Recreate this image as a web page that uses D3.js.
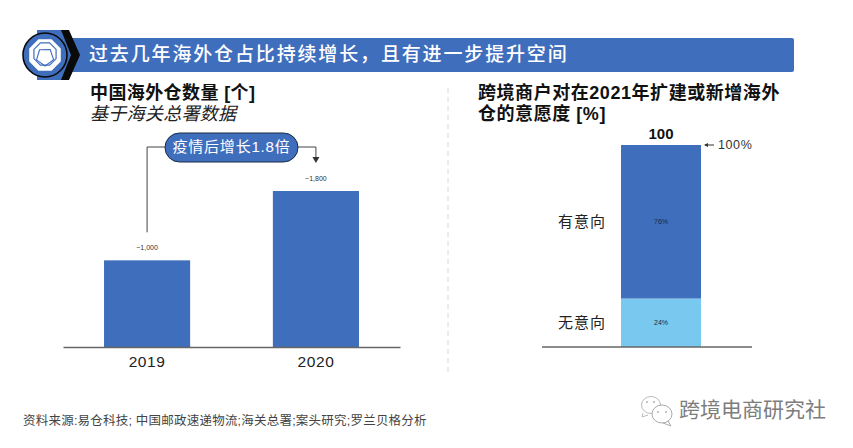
<!DOCTYPE html>
<html>
<head>
<meta charset="utf-8">
<script src="https://cdn.jsdelivr.net/npm/d3@7"></script>
<style>
  html, body { margin: 0; padding: 0; background: #fff; }
  svg { display: block; }
  text { font-family: "Liberation Sans", "Noto Sans CJK SC", sans-serif; }
</style>
</head>
<body>
<svg id="chart" width="853" height="448"></svg>
<script>
var years = ["2019", "2020"];
var warehouses = [1000, 1800];
var warehouseLabels = ["~1,000", "~1,800"];

var intentCategories = ["无意向", "有意向"];
var intentValues = [24, 76];
var intentLabels = ["24%", "76%"];
var intentTotal = 100;

var headline = "过去几年海外仓占比持续增长，且有进一步提升空间";
var leftTitle = "中国海外仓数量 [个]";
var leftSubtitle = "基于海关总署数据";
var rightTitle = ["跨境商户对在2021年扩建或新增海外", "仓的意愿度 [%]"];
var callout = "疫情后增长1.8倍";
var source = "资料来源:易仓科技; 中国邮政速递物流;海关总署;案头研究;罗兰贝格分析";
var watermark = "跨境电商研究社";

var blue = "#3f6ebd";
var lightBlue = "#79c8f0";
var baseY = 347;

var svg = d3.select("#chart");

var addText = function(str, x, y, size, opts){
  opts = opts || {};
  return svg.append("text")
    .text(str)
    .attr("x", x)
    .attr("y", y)
    .attr("font-size", size)
    .attr("fill", opts.fill || "#111")
    .attr("font-weight", opts.weight || "normal")
    .attr("font-style", opts.style || "normal")
    .attr("text-anchor", opts.anchor || "start")
    .attr("dominant-baseline", "middle")
    .style("letter-spacing", opts.spacing || "0");
};

var polygon = function(cx, cy, r, n, rot){
  var pts = d3.range(n).map(function(i){
    var a = rot + i * 2 * Math.PI / n;
    return [cx + r * Math.cos(a), cy + r * Math.sin(a)];
  });
  return d3.line()(pts) + "Z";
};

// banner
svg.append("rect").attr("x", 70).attr("y", 38).attr("width", 724).attr("height", 34)
   .attr("rx", 2).attr("fill", blue);
svg.append("path").attr("d", "M37,30H68L80,55L68,80H37Z").attr("fill", blue);
svg.append("path").attr("d", "M61,30H69L80,55L69,80H61L71,55Z").attr("fill", "#0a0a0a");
svg.append("circle").attr("cx", 45).attr("cy", 55).attr("r", 22)
   .attr("fill", blue).attr("stroke", "#0a0a0a").attr("stroke-width", 1.6);
svg.append("path").attr("d", polygon(45, 55, 16, 8, Math.PI / 8)).attr("fill", "#fff")
   .attr("stroke", "#fff").attr("stroke-width", 2).attr("stroke-linejoin", "round");
svg.append("path").attr("d", polygon(45, 54, 12, 8, Math.PI / 8)).attr("fill", "none")
   .attr("stroke", blue).attr("stroke-width", 1.2);
svg.append("path").attr("d", polygon(45, 57, 9, 5, 0.3)).attr("fill", "none")
   .attr("stroke", blue).attr("stroke-width", 1.1);
addText(headline, 89, 56, 19, {fill: "#fff", spacing: "1.85px", weight: 500});

// left chart
addText(leftTitle, 90, 94, 18, {weight: "bold", spacing: "0.4px"});
addText(leftSubtitle, 90, 115, 18, {style: "italic", fill: "#222", spacing: "0.3px"});

var xLeft = d3.scaleBand().domain(years).range([63, 400]).paddingInner(0.49).paddingOuter(0.243);
var yLeft = d3.scaleLinear().domain([0, 1800]).range([baseY, 191]);

svg.selectAll(".bar").data(warehouses).enter().append("rect")
   .attr("class", "bar")
   .attr("x", function(d, i){ return xLeft(years[i]); })
   .attr("y", function(d){ return yLeft(d); })
   .attr("width", xLeft.bandwidth())
   .attr("height", function(d){ return baseY - yLeft(d); })
   .attr("fill", blue);

svg.selectAll(".barLabel").data(warehouses).enter().append("text")
   .attr("class", "barLabel")
   .text(function(d, i){ return warehouseLabels[i]; })
   .attr("x", function(d, i){ return xLeft(years[i]) + xLeft.bandwidth() / 2; })
   .attr("y", function(d){ return yLeft(d) - 12; })
   .attr("font-size", 7)
   .attr("fill", "#333")
   .attr("text-anchor", "middle")
   .attr("dominant-baseline", "middle");

var axisLeft = svg.append("g").attr("transform", "translate(0," + baseY + ")")
   .call(d3.axisBottom(xLeft).tickSize(0).tickPadding(9));
axisLeft.select(".domain").attr("stroke", "#666").attr("stroke-width", 1.4);
axisLeft.selectAll("text").attr("font-size", 15.5).attr("fill", "#222")
   .attr("font-family", "Liberation Sans").style("letter-spacing", "0.6px");

// callout between the two bars
var cx0 = xLeft("2019") + xLeft.bandwidth() / 2;
var cx1 = xLeft("2020") + xLeft.bandwidth() / 2;
svg.append("path").attr("d", "M" + cx0 + "," + (yLeft(1000) - 28) + "V147H170")
   .attr("fill", "none").attr("stroke", "#444").attr("stroke-width", 1);
svg.append("path").attr("d", "M290,147H" + cx1 + "V158")
   .attr("fill", "none").attr("stroke", "#444").attr("stroke-width", 1);
svg.append("path").attr("d", "M" + (cx1 - 3.5) + ",157H" + (cx1 + 3.5) + "L" + cx1 + ",163Z").attr("fill", "#333");
svg.append("rect").attr("x", 165).attr("y", 133).attr("width", 133).attr("height", 29)
   .attr("rx", 14.5).attr("fill", blue).attr("stroke", "#1c2a44").attr("stroke-width", 1);
addText(callout, 231.5, 148, 15, {fill: "#fff", anchor: "middle", spacing: "0.8px"});

// divider
svg.append("line").attr("x1", 448).attr("x2", 448).attr("y1", 88).attr("y2", 372)
   .attr("stroke", "#d4d8d8").attr("stroke-width", 1).attr("stroke-dasharray", "5,4");

// right chart
rightTitle.forEach(function(t, i){
  addText(t, 478, 94 + i * 21, 18, {weight: "bold", spacing: "0.55px"});
});

var stackRows = [{}];
intentCategories.forEach(function(c, i){ stackRows[0][c] = intentValues[i]; });
var series = d3.stack().keys(intentCategories)(stackRows);

var yRight = d3.scaleLinear().domain([0, intentTotal]).range([baseY, 145]);
var xRight = d3.scaleBand().domain(["share"]).range([621, 701]);
var colors = d3.scaleOrdinal().domain(intentCategories).range([lightBlue, blue]);

svg.selectAll(".seg").data(series).enter().append("rect")
   .attr("class", "seg")
   .attr("x", xRight("share"))
   .attr("width", xRight.bandwidth())
   .attr("y", function(d){ return yRight(d[0][1]); })
   .attr("height", function(d){ return yRight(d[0][0]) - yRight(d[0][1]); })
   .attr("fill", function(d){ return colors(d.key); });

svg.selectAll(".segLabel").data(series).enter().append("text")
   .attr("class", "segLabel")
   .text(function(d, i){ return intentLabels[i]; })
   .attr("x", xRight("share") + xRight.bandwidth() / 2)
   .attr("y", function(d){ return yRight((d[0][0] + d[0][1]) / 2); })
   .attr("font-size", 7)
   .attr("fill", "#1a2a44")
   .attr("text-anchor", "middle")
   .attr("dominant-baseline", "middle");

svg.selectAll(".segName").data(series).enter().append("text")
   .attr("class", "segName")
   .text(function(d){ return d.key; })
   .attr("x", 606)
   .attr("y", function(d){ return yRight((d[0][0] + d[0][1]) / 2) + 1; })
   .attr("font-size", 15)
   .attr("fill", "#222")
   .attr("text-anchor", "end")
   .attr("dominant-baseline", "middle")
   .style("letter-spacing", "1px");

svg.append("line").attr("x1", 542).attr("x2", 752).attr("y1", baseY).attr("y2", baseY)
   .attr("stroke", "#666").attr("stroke-width", 1.4);

addText(String(intentTotal), xRight("share") + xRight.bandwidth() / 2, 135, 15, {weight: "bold", anchor: "middle"});
svg.append("path").attr("d", "M705,145H714").attr("stroke", "#333").attr("stroke-width", 1);
svg.append("path").attr("d", "M704,145L708,143V147Z").attr("fill", "#333");
addText("100%", 718, 146, 12.5, {fill: "#333", spacing: "0.6px"});

// source and watermark
addText(source, 23, 422, 12.5, {fill: "#444", spacing: "0.22px"});

svg.append("path").attr("d", "M643,413L642,417L648,415").attr("fill", "#fff").attr("stroke", "#bbb");
svg.append("ellipse").attr("cx", 651).attr("cy", 405).attr("rx", 9.5).attr("ry", 8.5)
   .attr("fill", "#fff").attr("stroke", "#bbb").attr("stroke-width", 1);
svg.append("path").attr("d", "M668,421L671,426L663,423").attr("fill", "#fff").attr("stroke", "#aaa");
svg.append("ellipse").attr("cx", 662).attr("cy", 414).attr("rx", 10).attr("ry", 9)
   .attr("fill", "#fff").attr("stroke", "#aaa").attr("stroke-width", 1);
svg.selectAll(".eye").data([[647, 402], [654, 402], [658, 412], [666, 412]]).enter().append("circle")
   .attr("class", "eye")
   .attr("cx", function(d){ return d[0]; })
   .attr("cy", function(d){ return d[1]; })
   .attr("r", 0.9)
   .attr("fill", "#aaa");
addText(watermark, 679, 411, 21, {fill: "#7d7d7d"});
</script>
</body>
</html>
